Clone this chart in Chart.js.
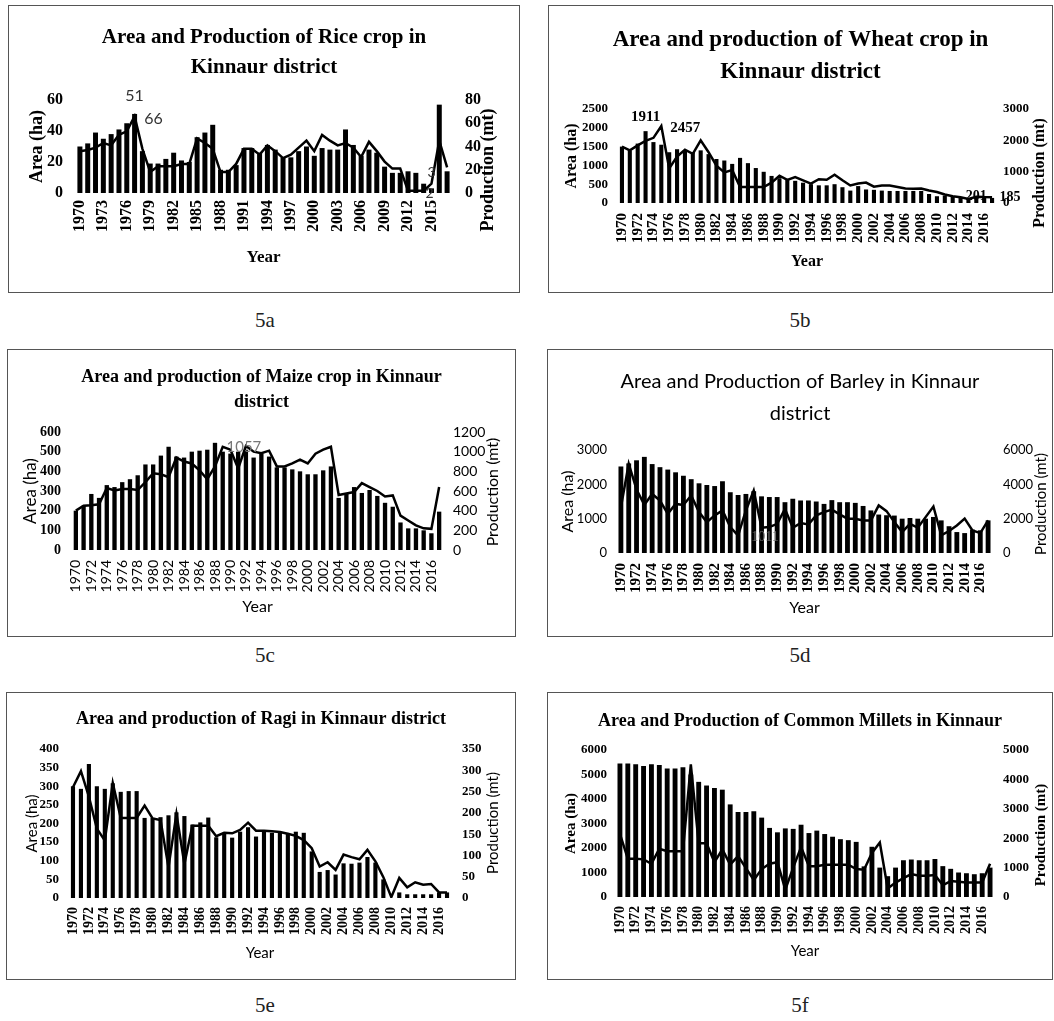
<!DOCTYPE html>
<html>
<head>
<meta charset="utf-8">
<title>Area and production of crops in Kinnaur district</title>
<script src="https://cdn.jsdelivr.net/npm/chart.js@4.4.1/dist/chart.umd.min.js"></script>
<style>
  body { margin: 0; background: #fff; width: 1054px; height: 1021px; position: relative; overflow: hidden; }
  .box { position: absolute; border: 1px solid #555; box-sizing: border-box; background: #fff; }
  .box canvas { position: absolute; left: 0; top: 0; }
  .cap { position: absolute; font-family: 'Liberation Serif', 'DejaVu Serif', serif; font-size: 21px; color: #222; transform: translate(-50%, -50%); }
</style>
</head>
<body>
<div class="cap" style="left:265px;top:320px">5a</div>
<div class="cap" style="left:800px;top:320px">5b</div>
<div class="cap" style="left:265px;top:655px">5c</div>
<div class="cap" style="left:800px;top:655px">5d</div>
<div class="cap" style="left:265px;top:1005px">5e</div>
<div class="cap" style="left:800px;top:1005px">5f</div>

<script>
const years = [1970, 1971, 1972, 1973, 1974, 1975, 1976, 1977, 1978, 1979,
  1980, 1981, 1982, 1983, 1984, 1985, 1986, 1987, 1988, 1989,
  1990, 1991, 1992, 1993, 1994, 1995, 1996, 1997, 1998, 1999,
  2000, 2001, 2002, 2003, 2004, 2005, 2006, 2007, 2008, 2009,
  2010, 2011, 2012, 2013, 2014, 2015, 2016, 2017];

// area (ha) = bars, production (mt) = line
const riceArea = [30, 32, 39, 35, 38, 41, 45, 51, 27, 19,
  19, 22, 26, 21, 20, 36, 39, 44, 15, 15,
  18, 29, 29, 26, 31, 28, 23, 23, 27, 30,
  24, 29, 28, 28, 41, 31, 24, 28, 26, 17,
  13, 13, 14, 13, 6, 3, 57, 14];
const riceProd = [36, 37, 39, 43, 41, 50, 53, 66, 38, 18,
  23, 23, 23, 25, 25, 47, 43, 38, 18, 18,
  25, 38, 38, 33, 41, 36, 30, 33, 39, 45,
  36, 50, 45, 41, 43, 39, 31, 44, 36, 27,
  21, 21, 2, 2, 2, 8, 45, 22];

const wheatArea = [1500, 1400, 1580, 1911, 1620, 1550, 1350, 1430, 1400, 1350,
  1400, 1300, 1170, 1130, 1040, 1200, 1060, 930, 830, 720,
  660, 610, 590, 540, 500, 470, 470, 500, 420, 330,
  450, 360, 350, 330, 320, 320, 320, 320, 320, 240,
  180, 200, 180, 135, 110, 135, 135, 135];
const wheatProd = [1800, 1680, 1840, 1980, 2080, 2457, 1100, 1480, 1700, 1570,
  2000, 1620, 1190, 975, 1050, 510, 510, 510, 510, 650,
  870, 740, 830, 725, 620, 760, 740, 900, 725, 560,
  620, 650, 520, 560, 560, 510, 465, 455, 465, 400,
  350, 270, 215, 185, 130, 201, 190, 185];

const maizeArea = [200, 225, 285, 265, 330, 320, 345, 360, 380, 435,
  435, 480, 525, 475, 470, 500, 505, 510, 545, 500,
  490, 500, 510, 470, 490, 475, 420, 420, 410, 400,
  385, 385, 405, 425, 265, 285, 320, 290, 305, 275,
  240, 220, 140, 110, 110, 100, 85, 195];
const maizeProd = [400, 450, 455, 465, 630, 605, 620, 620, 610, 690,
  780, 770, 740, 940, 900, 880, 810, 720, 850, 1050,
  1020, 830, 1057, 1000, 985, 1010, 850, 850, 880, 920,
  880, 980, 1020, 1050, 560, 575, 590, 680, 640, 600,
  545, 555, 350, 300, 250, 220, 215, 640];

const barleyArea = [2520, 2610, 2700, 2800, 2590, 2500, 2430, 2350, 2250, 2150,
  2030, 1980, 1950, 2090, 1770, 1690, 1720, 1800, 1650, 1630,
  1630, 1480, 1580, 1530, 1530, 1500, 1430, 1540, 1480, 1480,
  1460, 1370, 1240, 1120, 1100, 1090, 1000, 1020, 1000, 1000,
  1050, 950, 780, 610, 580, 680, 660, 950];
const barleyProd = [2670, 5200, 3700, 2800, 3440, 3050, 2280, 2860, 2800, 3350,
  2380, 1800, 2190, 2480, 1510, 1011, 2480, 3640, 1470, 1510,
  1700, 2570, 1470, 1740, 1660, 2190, 2380, 2530, 2250, 2000,
  2000, 1900, 1900, 2770, 2440, 1800, 1220, 1700, 1470, 2090,
  2710, 1030, 1280, 1600, 2000, 1320, 1160, 1900];

const ragiArea = [300, 293, 360, 300, 293, 308, 285, 287, 287, 215,
  215, 217, 222, 230, 220, 197, 203, 216, 163, 175,
  162, 178, 190, 165, 180, 175, 175, 172, 178, 175,
  125, 70, 75, 63, 93, 92, 95, 110, 95, 50,
  0, 15, 10, 10, 10, 10, 15, 15];
const ragiProd = [260, 298, 238, 163, 135, 270, 188, 188, 188, 217,
  187, 183, 72, 198, 80, 170, 170, 170, 145, 153,
  152, 160, 177, 158, 158, 157, 155, 151, 146, 136,
  117, 74, 84, 66, 102, 96, 91, 113, 86, 49,
  2, 47, 25, 37, 31, 33, 13, 13];

const milletArea = [5450, 5450, 5420, 5350, 5420, 5390, 5240, 5240, 5300, 5000,
  4700, 4550, 4450, 4380, 3780, 3470, 3470, 3500, 3240, 2820,
  2640, 2800, 2780, 2950, 2610, 2710, 2570, 2460, 2360, 2320,
  2250, 1250, 2050, 1200, 850, 1200, 1500, 1530, 1500, 1500,
  1550, 1260, 1150, 1000, 970, 930, 970, 1200];
const milletProd = [2150, 1300, 1300, 1280, 1130, 1640, 1560, 1560, 1560, 4510,
  1830, 1830, 1180, 1620, 1100, 1390, 980, 580, 950, 1130,
  1180, 250, 1000, 1700, 1050, 1050, 1100, 1100, 1100, 1100,
  950, 930, 1500, 1850, 290, 490, 640, 780, 720, 720,
  750, 400, 540, 520, 490, 490, 490, 1130];

const SERIF = "'Liberation Serif', 'Times New Roman', serif";
const SANS = "Lato, 'Open Sans', sans-serif";

function f(family, size, weight) {
  return { family: family, size: size, weight: weight || 'normal', lineHeight: 1.2 };
}
function css(font) {
  return font.weight + ' ' + font.size + 'px ' + font.family;
}

// value labels and the right axis title (reads bottom to top, like Excel)
const extras = {
  id: 'extras',
  afterDatasetsDraw(chart, args, opts) {
    const ctx = chart.ctx;
    (opts.labels || []).forEach(l => {
      const el = chart.getDatasetMeta(l.ds).data[l.i];
      const v = chart.data.datasets[l.ds].data[l.i];
      ctx.save();
      ctx.font = css(l.font);
      ctx.fillStyle = l.color || '#000';
      ctx.textAlign = 'center';
      ctx.textBaseline = 'middle';
      ctx.fillText(String(v), el.x + (l.dx || 0), el.y + (l.dy || 0));
      ctx.restore();
    });
  },
  afterDraw(chart, args, opts) {
    const t = opts.rightTitle;
    if (!t) return;
    const ctx = chart.ctx;
    ctx.save();
    ctx.translate(t.x, t.y);
    ctx.rotate(-Math.PI / 2);
    ctx.font = css(t.font);
    ctx.fillStyle = '#000';
    ctx.textAlign = 'center';
    ctx.textBaseline = 'middle';
    ctx.fillText(t.text, 0, 0);
    ctx.restore();
  }
};

function panel(p) {
  const cx = p.box[0] + 1, cy = p.box[1] + 1;
  const cw = p.box[2] - 2, ch = p.box[3] - 2;
  const div = document.createElement('div');
  div.className = 'box';
  div.style.left = p.box[0] + 'px';
  div.style.top = p.box[1] + 'px';
  div.style.width = p.box[2] + 'px';
  div.style.height = p.box[3] + 'px';
  const canvas = document.createElement('canvas');
  canvas.width = cw;
  canvas.height = ch;
  canvas.style.width = cw + 'px';
  canvas.style.height = ch + 'px';
  div.appendChild(canvas);
  document.body.appendChild(div);

  const nLines = Array.isArray(p.title.text) ? p.title.text.length : 1;
  const lh = p.title.spacing;
  const tTop = p.title.y - cy - lh / 2;
  const tBottom = (p.plot[1] - cy) - tTop - nLines * lh;
  const titleFont = Object.assign({}, p.title.font, { lineHeight: lh / p.title.font.size });

  const plain = v => String(v);

  new Chart(canvas, {
    type: 'bar',
    data: {
      labels: years,
      datasets: [
        {
          type: 'bar',
          data: p.area,
          backgroundColor: '#000',
          barPercentage: p.barPct,
          categoryPercentage: 1,
          yAxisID: 'y',
          order: 2
        },
        {
          type: 'line',
          data: p.prod,
          borderColor: '#000',
          borderWidth: 2.5,
          pointRadius: 0,
          tension: 0,
          yAxisID: 'y1',
          order: 1
        }
      ]
    },
    options: {
      responsive: false,
      animation: false,
      layout: { padding: 0 },
      plugins: {
        legend: { display: false },
        tooltip: { enabled: false },
        title: {
          display: true,
          text: p.title.text,
          color: '#000',
          font: titleFont,
          padding: { top: tTop, bottom: tBottom }
        },
        extras: {
          labels: p.labels,
          rightTitle: { text: 'Production (mt)', font: p.rTitle.font, x: p.rTitle.x - cx, y: p.rTitle.y - cy }
        }
      },
      scales: {
        x: {
          offset: true,
          grid: { display: false, drawTicks: false },
          border: { display: false },
          ticks: {
            autoSkip: false,
            minRotation: 90,
            maxRotation: 90,
            padding: p.xTicks.gap,
            color: '#000',
            font: p.xTicks.font,
            callback: (v, i) => (i % p.xTicks.every === 0 ? years[i] : '')
          },
          title: {
            display: true,
            text: 'Year',
            color: '#000',
            font: p.xTitle.font,
            padding: { top: 0, bottom: cy + ch - p.xTitle.y - p.xTitle.font.size * 0.6 }
          },
          afterFit: s => { s.height = cy + ch - p.plot[3]; }
        },
        y: {
          position: 'left',
          min: p.left.min,
          max: p.left.max,
          grid: { display: false, drawTicks: false },
          border: { display: false },
          ticks: { stepSize: p.left.step, autoSkip: false, padding: p.left.gap, color: '#000', font: p.left.font, callback: plain },
          title: {
            display: true,
            text: 'Area (ha)',
            color: '#000',
            font: p.yTitle.font,
            padding: { top: p.yTitle.x - cx - p.yTitle.font.size * 0.6, bottom: 0 }
          },
          afterFit: s => { s.width = p.plot[0] - cx; }
        },
        y1: {
          position: 'right',
          min: p.right.min,
          max: p.right.max,
          grid: { display: false, drawTicks: false },
          border: { display: false },
          ticks: { stepSize: p.right.step, autoSkip: false, padding: p.right.gap, color: '#000', font: p.right.font, callback: plain },
          afterFit: s => { s.width = cx + cw - p.plot[2]; }
        }
      }
    },
    plugins: [extras]
  });
}

// 5a rice
panel({
  box: [8, 5, 512, 288],
  plot: [76, 100, 451, 193],
  title: { text: ['Area and Production of Rice crop in', 'Kinnaur district'], font: f(SERIF, 21, 'bold'), spacing: 30, y: 38 },
  left: { min: 0, max: 60, step: 20, font: f(SERIF, 16, 'bold'), gap: 13 },
  right: { min: 0, max: 80, step: 20, font: f(SERIF, 16, 'bold'), gap: 14 },
  yTitle: { font: f(SERIF, 18, 'bold'), x: 37 },
  rTitle: { font: f(SERIF, 18, 'bold'), x: 488, y: 170 },
  xTicks: { every: 3, font: f(SERIF, 16, 'bold'), gap: 7 },
  xTitle: { font: f(SERIF, 17, 'bold'), y: 258 },
  area: riceArea, prod: riceProd, barPct: 0.64,
  labels: [
    { ds: 0, i: 7, dy: -18, font: f(SANS, 16), color: '#333' },
    { ds: 1, i: 7, dx: 19, dy: 3, font: f(SANS, 16), color: '#333' },
    { ds: 0, i: 45, dy: -16, font: f(SANS, 14), color: '#333' },
    { ds: 1, i: 44, dx: 6, dy: 3, font: f(SANS, 14), color: '#333' }
  ]
});

// 5b wheat
panel({
  box: [548, 5, 505, 288],
  plot: [618, 109, 996, 203],
  title: { text: ['Area and production of Wheat crop in', 'Kinnaur district'], font: f(SERIF, 23, 'bold'), spacing: 32, y: 40 },
  left: { min: 0, max: 2500, step: 500, font: f(SERIF, 13, 'bold'), gap: 10 },
  right: { min: 0, max: 3000, step: 1000, font: f(SERIF, 13, 'bold'), gap: 7 },
  yTitle: { font: f(SERIF, 16, 'bold'), x: 572 },
  rTitle: { font: f(SERIF, 16, 'bold'), x: 1040, y: 173 },
  xTicks: { every: 2, font: f(SERIF, 15, 'bold'), gap: 10 },
  xTitle: { font: f(SERIF, 16, 'bold'), y: 262 },
  area: wheatArea, prod: wheatProd, barPct: 0.52,
  labels: [
    { ds: 0, i: 3, dy: -14, font: f(SERIF, 15, 'bold') },
    { ds: 1, i: 5, dx: 24, dy: 2, font: f(SERIF, 15, 'bold') },
    { ds: 1, i: 45, dy: 0, font: f(SERIF, 14, 'bold') },
    { ds: 1, i: 47, dx: 18, dy: 0, font: f(SERIF, 14, 'bold') }
  ]
});

// 5c maize
panel({
  box: [7, 349, 509, 288],
  plot: [72, 432, 443, 550],
  title: { text: ['Area and production of Maize crop in Kinnaur', 'district'], font: f(SERIF, 18, 'bold'), spacing: 25, y: 377 },
  left: { min: 0, max: 600, step: 100, font: f(SERIF, 14, 'bold'), gap: 11 },
  right: { min: 0, max: 1200, step: 200, font: f(SANS, 14), gap: 10 },
  yTitle: { font: f(SANS, 17), x: 31 },
  rTitle: { font: f(SANS, 16), x: 493, y: 492 },
  xTicks: { every: 2, font: f(SANS, 14), gap: 10 },
  xTitle: { font: f(SANS, 16), y: 607 },
  area: maizeArea, prod: maizeProd, barPct: 0.56,
  labels: [
    { ds: 1, i: 22, dx: -2, dy: 1, font: f(SANS, 15), color: '#777' }
  ]
});

// 5d barley
panel({
  box: [547, 349, 506, 288],
  plot: [617, 450, 992, 553],
  title: { text: ['Area and Production of Barley in Kinnaur', 'district'], font: f(SANS, 20), spacing: 32, y: 382 },
  left: { min: 0, max: 3000, step: 1000, font: f(SANS, 13), gap: 10 },
  right: { min: 0, max: 6000, step: 2000, font: f(SANS, 13), gap: 11 },
  yTitle: { font: f(SANS, 16), x: 568 },
  rTitle: { font: f(SANS, 15), x: 1041, y: 504 },
  xTicks: { every: 2, font: f(SERIF, 15, 'bold'), gap: 10 },
  xTitle: { font: f(SANS, 16), y: 608 },
  area: barleyArea, prod: barleyProd, barPct: 0.62,
  labels: [
    { ds: 1, i: 15, dx: 27, dy: 2, font: f(SERIF, 14), color: '#666' }
  ]
});

// 5e ragi
panel({
  box: [6, 692, 510, 288],
  plot: [69, 749, 451, 898],
  title: { text: 'Area and production of Ragi in Kinnaur district', font: f(SERIF, 18, 'bold'), spacing: 22, y: 719 },
  left: { min: 0, max: 400, step: 50, font: f(SERIF, 13, 'bold'), gap: 10 },
  right: { min: 0, max: 350, step: 50, font: f(SERIF, 13, 'bold'), gap: 11 },
  yTitle: { font: f(SANS, 15), x: 32 },
  rTitle: { font: f(SANS, 15), x: 493, y: 823 },
  xTicks: { every: 2, font: f(SERIF, 14, 'bold'), gap: 9 },
  xTitle: { font: f(SANS, 15), y: 953 },
  area: ragiArea, prod: ragiProd, barPct: 0.52,
  labels: []
});

// 5f common millets
panel({
  box: [547, 692, 506, 288],
  plot: [616, 750, 994, 897],
  title: { text: 'Area and Production of Common Millets in Kinnaur', font: f(SERIF, 18, 'bold'), spacing: 22, y: 721 },
  left: { min: 0, max: 6000, step: 1000, font: f(SERIF, 13, 'bold'), gap: 9 },
  right: { min: 0, max: 5000, step: 1000, font: f(SERIF, 13, 'bold'), gap: 9 },
  yTitle: { font: f(SERIF, 15, 'bold'), x: 571 },
  rTitle: { font: f(SERIF, 15, 'bold'), x: 1041, y: 835 },
  xTicks: { every: 2, font: f(SERIF, 14, 'bold'), gap: 9 },
  xTitle: { font: f(SANS, 15), y: 951 },
  area: milletArea, prod: milletProd, barPct: 0.62,
  labels: []
});
</script>
</body>
</html>
